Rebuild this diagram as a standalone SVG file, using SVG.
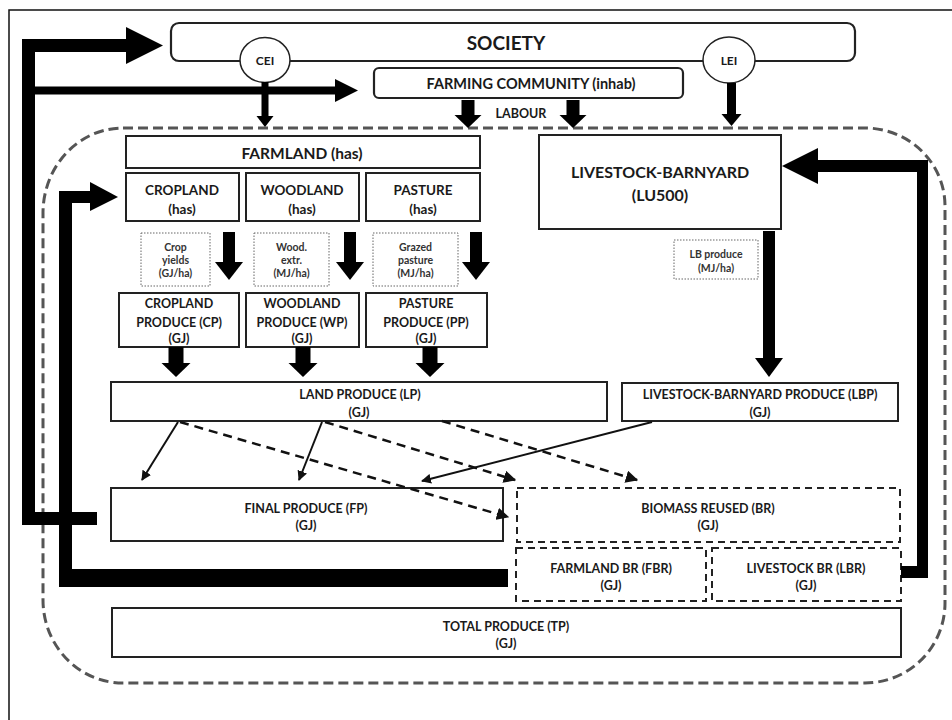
<svg xmlns="http://www.w3.org/2000/svg" width="952" height="720" viewBox="0 0 952 720">
<defs>
<style>
text{font-family:Lato,"Liberation Sans",sans-serif;font-weight:bold;fill:#1a1a1a;text-anchor:middle}
.box{fill:#fff;stroke:#222;stroke-width:2}
.rbox{fill:#fff;stroke:#222;stroke-width:2.2}
.dbox{fill:#fff;stroke:#222;stroke-width:2;stroke-dasharray:7,5}
.pbox{fill:#fff;stroke:#666;stroke-width:1;stroke-dasharray:1.5,1.5}
.thin{fill:none;stroke:#111;stroke-width:2}
.dash{fill:none;stroke:#111;stroke-width:2.5;stroke-dasharray:9,6}
.fill{fill:#000;stroke:none}
.t12{font-size:12.5px}
.t13{font-size:12.5px}
.t14{font-size:13.5px}
.t10{font-size:10.5px;fill:#333}
</style>
<marker id="ah" viewBox="0 0 10 10" refX="9" refY="5" markerWidth="5" markerHeight="5" orient="auto">
<path d="M0,0 L10,5 L0,10 z" fill="#111"/>
</marker>
</defs>
<rect width="952" height="720" fill="#fff"/>
<path d="M9,720 V10 H952" fill="none" stroke="#111" stroke-width="1.5"/>

<path id="boundary" d="M123,128 H865 A80,78 0 0 1 945,206 V603 A80,80 0 0 1 865,683 H123 A80,83 0 0 1 43,600 V213 A80,85 0 0 1 123,128 Z" fill="none" stroke="#555" stroke-width="3" stroke-dasharray="10,5"/>

<g id="society">
<rect class="rbox" x="171" y="23" width="684" height="38" rx="8"/>
<text x="506" y="50" style="font-size:19px">SOCIETY</text>
</g>
<g id="cei">
<ellipse cx="265" cy="60" rx="25" ry="22.5" fill="#fff" stroke="#222" stroke-width="1.5"/>
<text x="265" y="65" style="font-size:12px">CEI</text>
</g>
<g id="lei">
<ellipse cx="729" cy="60" rx="26" ry="23" fill="#fff" stroke="#222" stroke-width="1.5"/>
<text x="729" y="65" style="font-size:12px">LEI</text>
</g>
<g id="farming-community">
<rect class="rbox" x="374" y="68" width="309" height="30" rx="5"/>
<text x="531" y="89" style="font-size:14.5px">FARMING COMMUNITY (inhab)</text>
</g>
<g id="labour-label"><text x="521" y="118" style="font-size:12.5px">LABOUR</text></g>

<g id="farmland">
<rect class="box" x="126" y="136" width="354" height="32"/>
<text x="302" y="159" style="font-size:15.5px">FARMLAND (has)</text>
</g>
<g id="cropland">
<rect class="box" x="126" y="173" width="113" height="48"/>
<text class="t14" x="182" y="195">CROPLAND</text>
<text class="t14" x="182" y="214">(has)</text>
</g>
<g id="woodland">
<rect class="box" x="246" y="173" width="113" height="48"/>
<text class="t14" x="302" y="195">WOODLAND</text>
<text class="t14" x="302" y="214">(has)</text>
</g>
<g id="pasture">
<rect class="box" x="366" y="173" width="114" height="48"/>
<text class="t14" x="423" y="195">PASTURE</text>
<text class="t14" x="423" y="214">(has)</text>
</g>
<g id="livestock-barnyard">
<rect class="box" x="539" y="135" width="242" height="94"/>
<text x="660" y="178" style="font-size:16px">LIVESTOCK-BARNYARD</text>
<text x="660" y="201" style="font-size:16px">(LU500)</text>
</g>

<g id="crop-yields">
<rect class="pbox" x="141" y="233" width="69" height="53"/>
<text class="t10" x="175.5" y="251">Crop</text>
<text class="t10" x="175.5" y="264">yields</text>
<text class="t10" x="175.5" y="277">(GJ/ha)</text>
</g>
<g id="wood-extr">
<rect class="pbox" x="254" y="233" width="75" height="53"/>
<text class="t10" x="291.5" y="251">Wood.</text>
<text class="t10" x="291.5" y="264">extr.</text>
<text class="t10" x="291.5" y="277">(MJ/ha)</text>
</g>
<g id="grazed-pasture">
<rect class="pbox" x="373" y="233" width="85" height="53"/>
<text class="t10" x="415.5" y="251">Grazed</text>
<text class="t10" x="415.5" y="264">pasture</text>
<text class="t10" x="415.5" y="277">(MJ/ha)</text>
</g>
<g id="lb-produce-rate">
<rect class="pbox" x="674" y="240" width="84" height="39"/>
<text class="t10" x="716" y="258">LB produce</text>
<text class="t10" x="716" y="272">(MJ/ha)</text>
</g>

<g id="cp">
<rect class="box" x="119" y="293" width="120" height="54"/>
<text class="t13" x="179" y="308">CROPLAND</text>
<text class="t13" x="179" y="327">PRODUCE (CP)</text>
<text class="t13" x="179" y="343">(GJ)</text>
</g>
<g id="wp">
<rect class="box" x="246" y="293" width="113" height="54"/>
<text class="t13" x="302" y="308">WOODLAND</text>
<text class="t13" x="302" y="327">PRODUCE (WP)</text>
<text class="t13" x="302" y="343">(GJ)</text>
</g>
<g id="pp">
<rect class="box" x="366" y="293" width="121" height="54"/>
<text class="t13" x="426" y="308">PASTURE</text>
<text class="t13" x="426" y="327">PRODUCE (PP)</text>
<text class="t13" x="426" y="343">(GJ)</text>
</g>

<g id="lp">
<rect class="box" x="111" y="382" width="496" height="39"/>
<text class="t12" x="360" y="399">LAND PRODUCE (LP)</text>
<text class="t12" x="359" y="417">(GJ)</text>
</g>
<g id="lbp">
<rect class="box" x="622" y="383" width="276" height="38"/>
<text class="t12" x="760" y="399">LIVESTOCK-BARNYARD PRODUCE (LBP)</text>
<text class="t12" x="760" y="417">(GJ)</text>
</g>
<g id="fp">
<rect class="box" x="111" y="488" width="392" height="53"/>
<text class="t12" x="306" y="513">FINAL PRODUCE (FP)</text>
<text class="t12" x="306" y="530">(GJ)</text>
</g>
<g id="br">
<rect class="dbox" x="517" y="488" width="383" height="54"/>
<text class="t12" x="708" y="513">BIOMASS REUSED (BR)</text>
<text class="t12" x="708" y="530">(GJ)</text>
</g>
<g id="fbr">
<rect class="dbox" x="516" y="548" width="190" height="53"/>
<text class="t12" x="611" y="573">FARMLAND BR (FBR)</text>
<text class="t12" x="611" y="590">(GJ)</text>
</g>
<g id="lbr">
<rect class="dbox" x="712" y="548" width="189" height="53"/>
<text class="t12" x="806" y="573">LIVESTOCK BR (LBR)</text>
<text class="t12" x="806" y="590">(GJ)</text>
</g>
<g id="tp">
<rect class="box" x="112" y="608" width="789" height="49"/>
<text class="t12" x="506" y="631">TOTAL PRODUCE (TP)</text>
<text class="t12" x="506" y="648">(GJ)</text>
</g>

<g id="connectors">
<path d="M97,518.5 H28.5 V45.5 H128" fill="none" stroke="#000" stroke-width="13"/>
<polygon class="fill" points="126,27 163,45.5 126,64"/>
<path d="M35,90.5 H337" fill="none" stroke="#000" stroke-width="8"/>
<polygon class="fill" points="335,79 358,90.5 335,102"/>
<rect class="fill" x="59" y="569" width="449" height="18"/>
<rect class="fill" x="59" y="191" width="13" height="396"/>
<rect class="fill" x="59" y="191" width="33" height="12"/>
<polygon class="fill" points="90,182 118,197 90,211"/>
<rect class="fill" x="901" y="566" width="27" height="12"/>
<rect class="fill" x="917" y="160" width="11" height="418"/>
<rect class="fill" x="816" y="160" width="112" height="12"/>
<polygon class="fill" points="818,148 782,166 818,184"/>
<rect class="fill" x="261.5" y="82" width="7" height="36"/>
<polygon class="fill" points="256.5,116 273.5,116 265,127"/>
<rect class="fill" x="727" y="83" width="9" height="33"/>
<polygon class="fill" points="721.5,114 741.5,114 731.5,126"/>
<rect class="fill" x="461.5" y="100" width="13" height="17"/>
<polygon class="fill" points="454.5,115 481.5,115 468,128"/>
<rect class="fill" x="566.5" y="100" width="13" height="17"/>
<polygon class="fill" points="559.5,115 586.5,115 573,128"/>
<rect class="fill" x="223" y="232" width="12" height="31"/>
<polygon class="fill" points="215,262 243,262 229,280"/>
<rect class="fill" x="344" y="232" width="12" height="31"/>
<polygon class="fill" points="336,262 364,262 350,280"/>
<rect class="fill" x="470" y="232" width="12" height="31"/>
<polygon class="fill" points="462,262 490,262 476,280"/>
<rect class="fill" x="763" y="231" width="12" height="129"/>
<polygon class="fill" points="755,358 783,358 769,377"/>
<rect class="fill" x="168.5" y="347" width="15" height="17"/>
<polygon class="fill" points="161.5,363 190.5,363 176,377"/>
<rect class="fill" x="295.5" y="347" width="15" height="17"/>
<polygon class="fill" points="288.5,363 317.5,363 303,377"/>
<rect class="fill" x="422.5" y="347" width="15" height="17"/>
<polygon class="fill" points="415.5,363 444.5,363 430,377"/>
<line class="thin" x1="178" y1="422" x2="142" y2="480" marker-end="url(#ah)"/>
<line class="thin" x1="322" y1="422" x2="299" y2="480" marker-end="url(#ah)"/>
<line class="thin" x1="652" y1="422" x2="422" y2="481" marker-end="url(#ah)"/>
<line class="dash" x1="180" y1="422" x2="508" y2="517" marker-end="url(#ah)"/>
<line class="dash" x1="325" y1="422" x2="515" y2="480" marker-end="url(#ah)"/>
<line class="dash" x1="442" y1="421" x2="637" y2="480" marker-end="url(#ah)"/>
</g>
</svg>
